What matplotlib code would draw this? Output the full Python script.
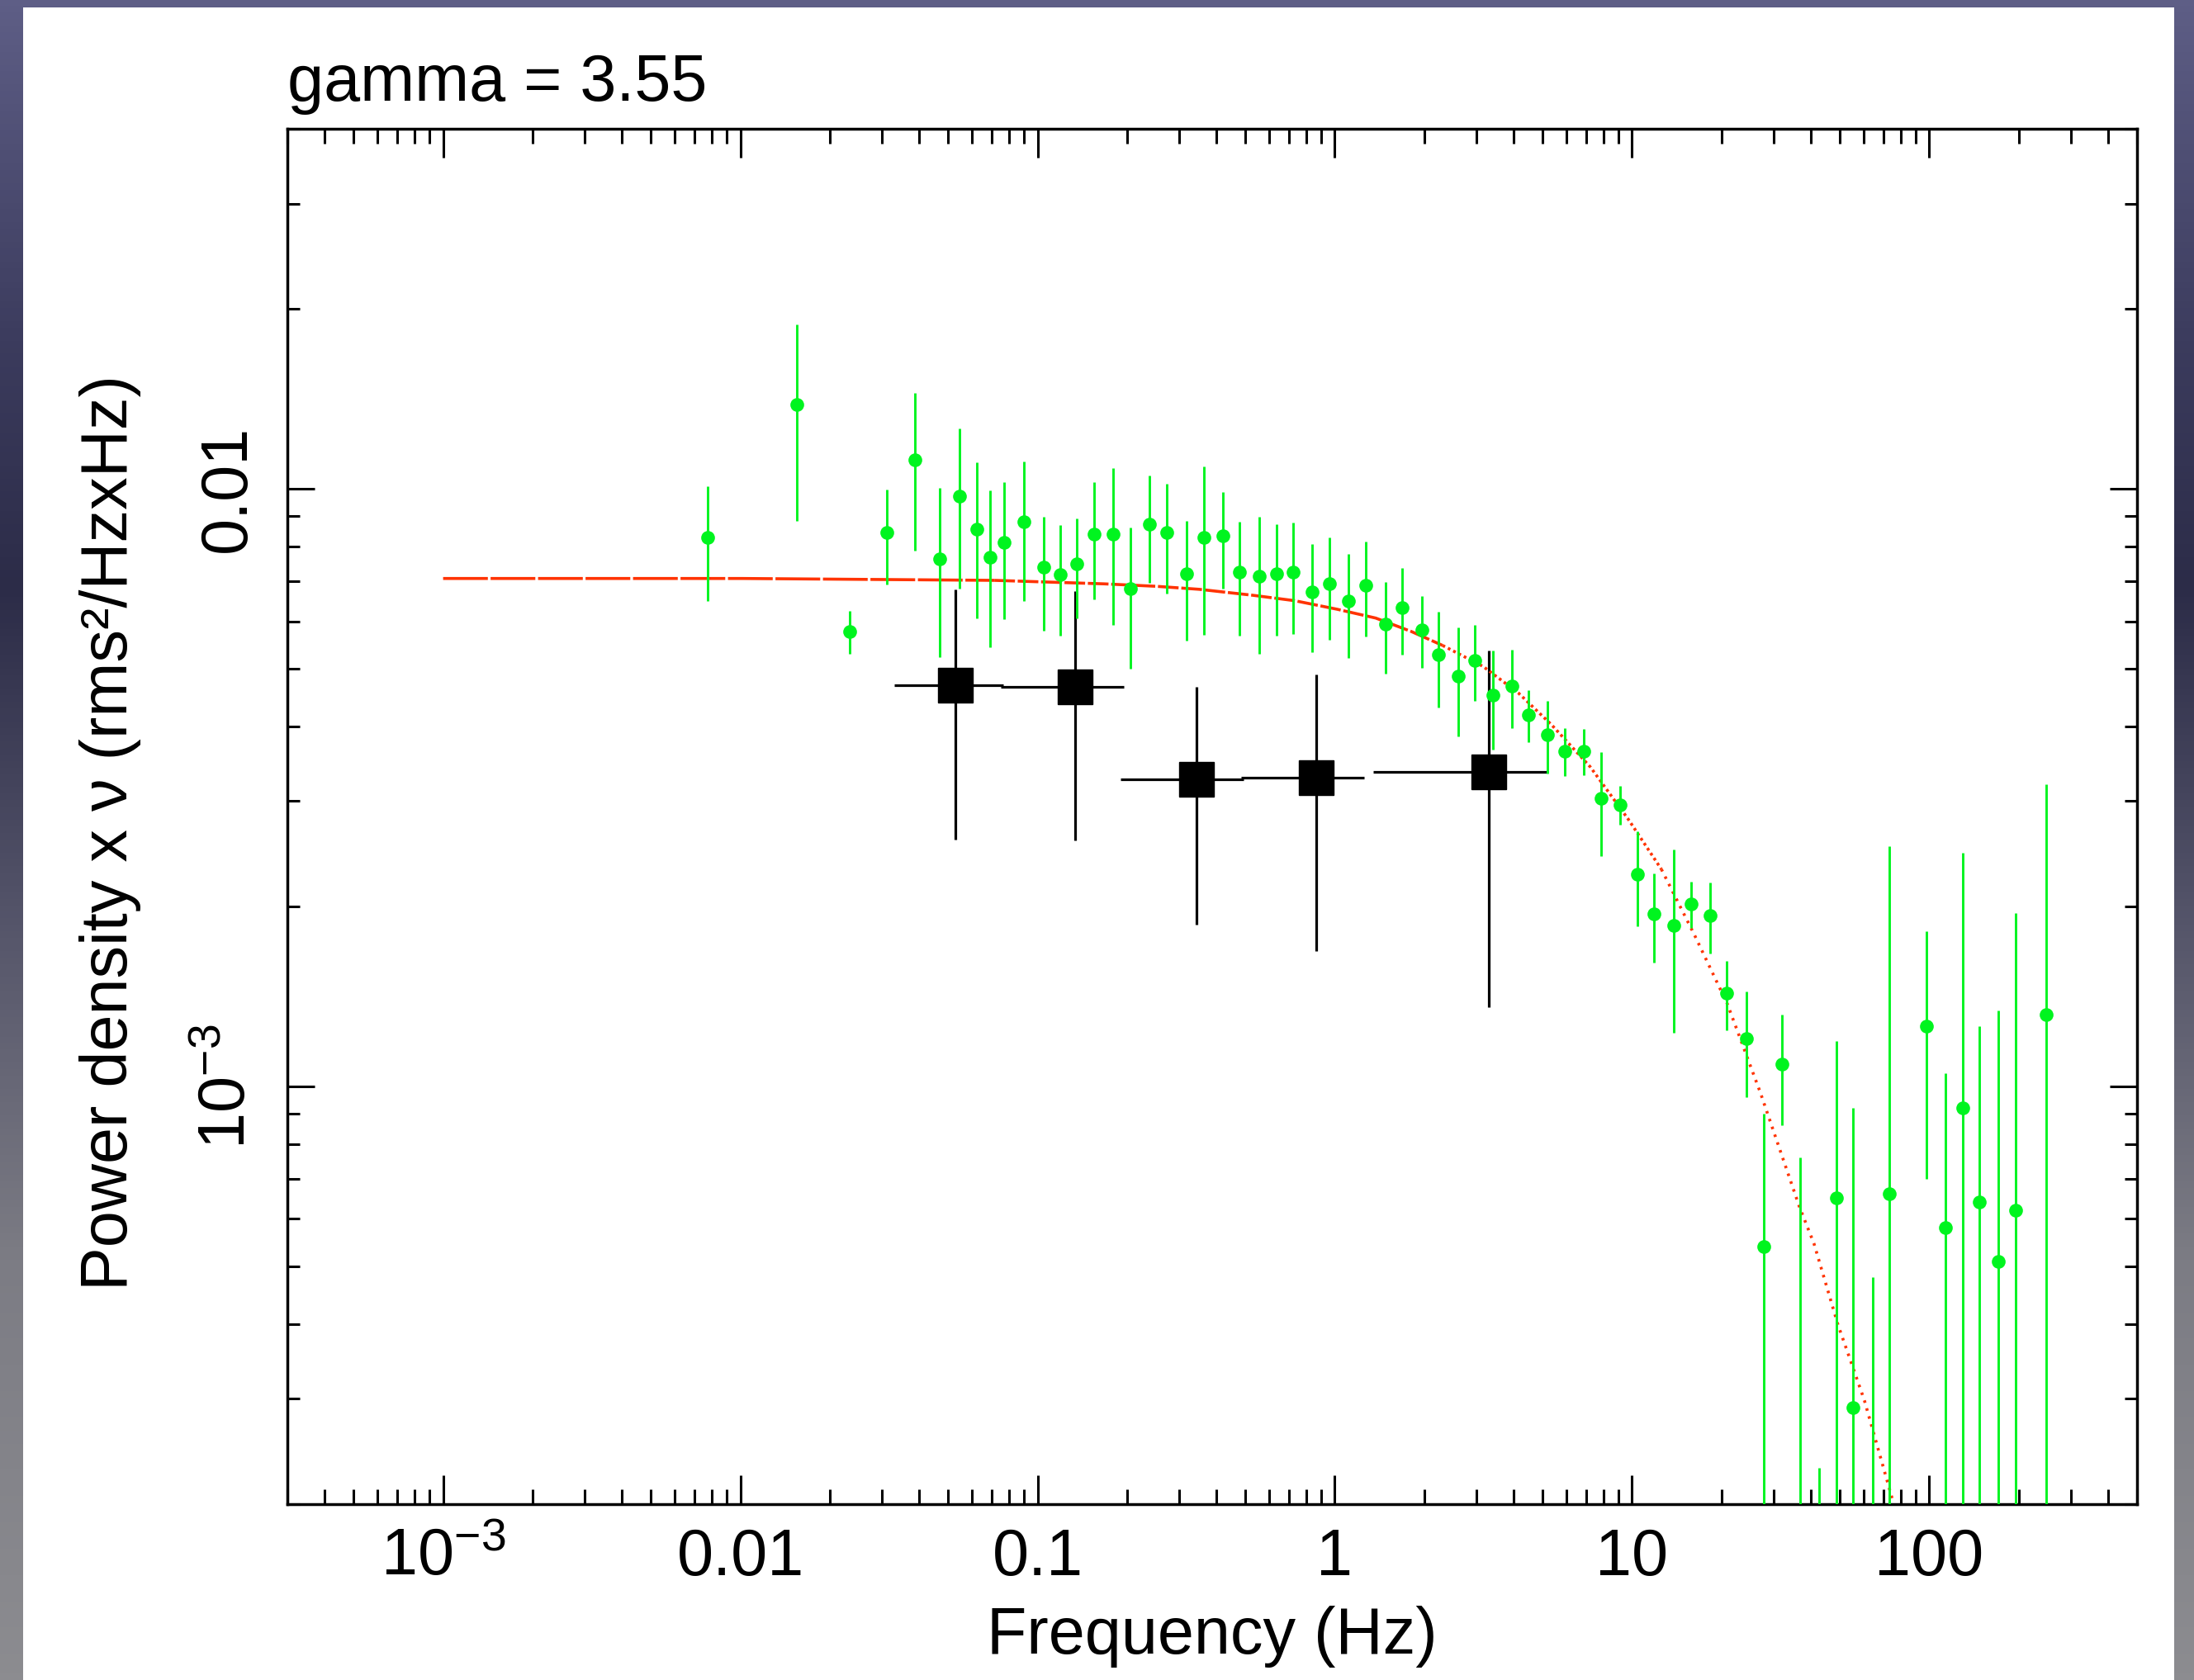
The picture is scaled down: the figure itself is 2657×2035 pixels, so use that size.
import numpy as np
import matplotlib
matplotlib.use('Agg')
import matplotlib.pyplot as plt
from matplotlib.patches import Rectangle
from matplotlib.ticker import LogLocator, NullFormatter

plt.rcParams['font.family'] = ['Liberation Sans', 'DejaVu Sans']
plt.rcParams['mathtext.fontset'] = 'custom'
plt.rcParams['mathtext.rm'] = 'Liberation Sans'
plt.rcParams['mathtext.it'] = 'Liberation Sans:italic'
plt.rcParams['mathtext.bf'] = 'Liberation Sans:bold'
plt.rcParams['lines.scale_dashes'] = False

# fine-resolution power spectrum (green), 1 sigma errors
pds_freq = [0.00776, 0.01554, 0.0234, 0.0311, 0.0386, 0.0469, 0.0547, 0.0623, 0.0694, 0.0774,
            0.0900, 0.1050, 0.1193, 0.1357, 0.1551, 0.1800, 0.2055, 0.2384, 0.2722, 0.3174,
            0.3623, 0.4205, 0.4788, 0.5572, 0.6361, 0.7242, 0.8407, 0.9596, 1.114, 1.271,
            1.482, 1.685, 1.960, 2.237, 2.603, 2.963, 3.405, 3.936, 4.474, 5.202,
            5.928, 6.893, 7.869, 9.134, 10.43, 11.87, 13.84, 15.77, 18.34, 20.84,
            24.28, 27.72, 31.95, 36.75, 42.65, 48.60, 55.47, 64.64, 73.45, 97.57,
            113.5, 129.6, 147.2, 171.2, 195.4, 247.6]
pds_pow = [0.00828, 0.01384, 0.00577, 0.00844, 0.01118, 0.00762, 0.00971, 0.00856, 0.00769, 0.00814,
           0.00879, 0.00738, 0.00718, 0.00749, 0.00838, 0.00838, 0.00680, 0.00873, 0.00844, 0.00720,
           0.00829, 0.00833, 0.00724, 0.00713, 0.00720, 0.00724, 0.00671, 0.00693, 0.00649, 0.00690,
           0.00594, 0.00632, 0.00581, 0.00527, 0.00485, 0.00516, 0.00451, 0.00467, 0.00418, 0.00388,
           0.00364, 0.00364, 0.00303, 0.00296, 0.00226, 0.00194, 0.00186, 0.00202, 0.00193, 0.00143,
           0.00120, 0.00054, 0.00109, 0.00012, 0.00010, 0.00065, 0.00029, 0.00015, 0.00066, 0.00126,
           0.00058, 0.00092, 0.00064, 0.00051, 0.00062, 0.00132]
pds_err = [0.0018, 0.0050, 0.00047, 0.00152, 0.0033, 0.0024, 0.0029, 0.0025, 0.00226, 0.0021,
           0.0023, 0.0016, 0.0015, 0.00143, 0.00186, 0.00246, 0.0018, 0.00178, 0.00176, 0.00163,
           0.0026, 0.00153, 0.00157, 0.00183, 0.00153, 0.00153, 0.00138, 0.00135, 0.00128, 0.00125,
           0.00104, 0.00104, 0.0008, 0.00096, 0.0010, 0.00075, 0.00085, 0.0007, 0.00042, 0.00054,
           0.00033, 0.00032, 0.0006, 0.00022, 0.00041, 0.00033, 0.00063, 0.00018, 0.00026, 0.00019,
           0.00024, 0.00036, 0.00023, 0.00064, 0.00013, 0.00054, 0.00063, 0.00033, 0.00186, 0.00056,
           0.00047, 0.00154, 0.00062, 0.00083, 0.00133, 0.00188]

# coarse bins (black squares)
bin_freq = [0.0529, 0.1338, 0.3417, 0.8685, 3.2975]
bin_lo = [0.0329, 0.0750, 0.1905, 0.4841, 1.3484]
bin_hi = [0.0765, 0.1954, 0.4919, 1.2530, 5.1658]
bin_pow = [0.004685, 0.004656, 0.003265, 0.003282, 0.003356]
bin_err = [0.0021, 0.00208, 0.0014, 0.0016, 0.0020]

# best-fit model (red)
model_freq = [0.001, 0.01017, 0.07153, 0.1675, 0.2517, 0.3494, 0.5294, 0.7336, 1.0165, 1.373,
              1.807, 2.305, 3.153, 4.152, 5.361, 7.240, 9.717, 12.55, 16.20, 20.94,
              27.04, 36.51, 40.96, 49.22, 60.51, 75.07]
model_pow = [0.007075, 0.007075, 0.007024, 0.006930, 0.006864, 0.006786, 0.006632, 0.006494, 0.006285, 0.006074,
             0.005769, 0.005466, 0.005042, 0.004548, 0.004026, 0.003422, 0.002797, 0.002308, 0.001794, 0.001372,
             0.000975, 0.000630, 0.000545, 0.000400, 0.000298, 0.000204]

green = '#00f41f'
red = '#ff3300'
fs = 57

fig = plt.figure(figsize=(26.57, 20.35), dpi=100)

# slide background behind the white panel
bg = fig.add_axes([0, 0, 1, 1], zorder=-2)
stops = [0.0, 0.2, 0.35, 0.55, 0.75, 1.0]
cols = np.array([[0x5e, 0x5e, 0x86], [0x3c, 0x3c, 0x5e], [0x2c, 0x2c, 0x48],
                 [0x55, 0x55, 0x6a], [0x7c, 0x7c, 0x84], [0x8c, 0x8c, 0x90]]) / 255.0
t = np.linspace(0, 1, 256)
grad = np.stack([np.interp(t, stops, cols[:, k]) for k in range(3)], axis=-1)
bg.imshow(grad[:, None, :].repeat(2, axis=1), aspect='auto', extent=[0, 1, 0, 1])
bg.set_axis_off()
fig.add_artist(Rectangle((0.01054, 0.0), 0.98043, 0.99558, transform=fig.transFigure,
                         facecolor='white', edgecolor='none', zorder=-1))

ax = fig.add_axes([0.13113, 0.10477, 0.84290, 0.81852])
ax.set_facecolor('white')

# model, dash pattern tightening towards high frequency
pieces = [(0, 2, (0, (39, 2.4))), (2, 11, (0, (18, 2.4))), (11, 17, (0, (2.4, 2.8))), (17, 25, (0, (2.2, 5.0)))]
for i0, i1, ls in pieces:
    ax.plot(model_freq[i0:i1 + 1], model_pow[i0:i1 + 1], color=red, lw=2.6, ls=ls,
            dash_capstyle='butt', zorder=4)

ax.errorbar(bin_freq, bin_pow,
            xerr=[np.subtract(bin_freq, bin_lo), np.subtract(bin_hi, bin_freq)],
            yerr=bin_err, fmt='s', color='black', ms=30, elinewidth=2.3, capsize=0, zorder=3)
ax.errorbar(pds_freq, pds_pow, yerr=pds_err, fmt='o', color=green, ms=12, mew=0,
            elinewidth=2.1, capsize=0, zorder=5)

ax.set_xscale('log')
ax.set_yscale('log')
ax.set_xlim(3e-4, 500)
ax.set_ylim(2e-4, 0.04)

ax.set_xticks([1e-3, 1e-2, 1e-1, 1, 10, 100],
              labels=[r'$\mathregular{10^{-3}}$', '0.01', '0.1', '1', '10', '100'])
ax.set_yticks([1e-3, 1e-2], labels=[r'$\mathregular{10^{-3}}$', '0.01'])
for axis in (ax.xaxis, ax.yaxis):
    axis.set_minor_locator(LogLocator(base=10, subs=np.arange(2, 10), numticks=30))
    axis.set_minor_formatter(NullFormatter())

ax.tick_params(which='both', direction='in', top=True, right=True, width=2.2, labelsize=fs)
ax.tick_params(axis='x', which='major', length=25, pad=62)
ax.tick_params(axis='x', which='minor', length=13)
ax.tick_params(axis='y', which='major', length=23.5, pad=37)
ax.tick_params(axis='y', which='minor', length=11)
for lab in ax.get_xticklabels():
    lab.set_va('baseline')
for lab in ax.get_yticklabels():
    lab.set_rotation(90)
    lab.set_rotation_mode('anchor')
    lab.set_ha('center')
    lab.set_va('baseline')

for sp in ax.spines.values():
    sp.set_linewidth(2.5)

ax.set_xlabel('Frequency (Hz)', fontsize=fs, va='baseline')
ax.xaxis.set_label_coords(0.5, -0.109)
ax.set_ylabel('Power density x \u03bd (rms\u00b2/HzxHz)', fontsize=fs, va='baseline')
ax.yaxis.set_label_coords(-0.087, 0.488)
ax.text(0.0, 1.0207, 'gamma = 3.55', transform=ax.transAxes, ha='left', va='baseline', fontsize=fs)

fig.savefig('out.png', dpi=100)
